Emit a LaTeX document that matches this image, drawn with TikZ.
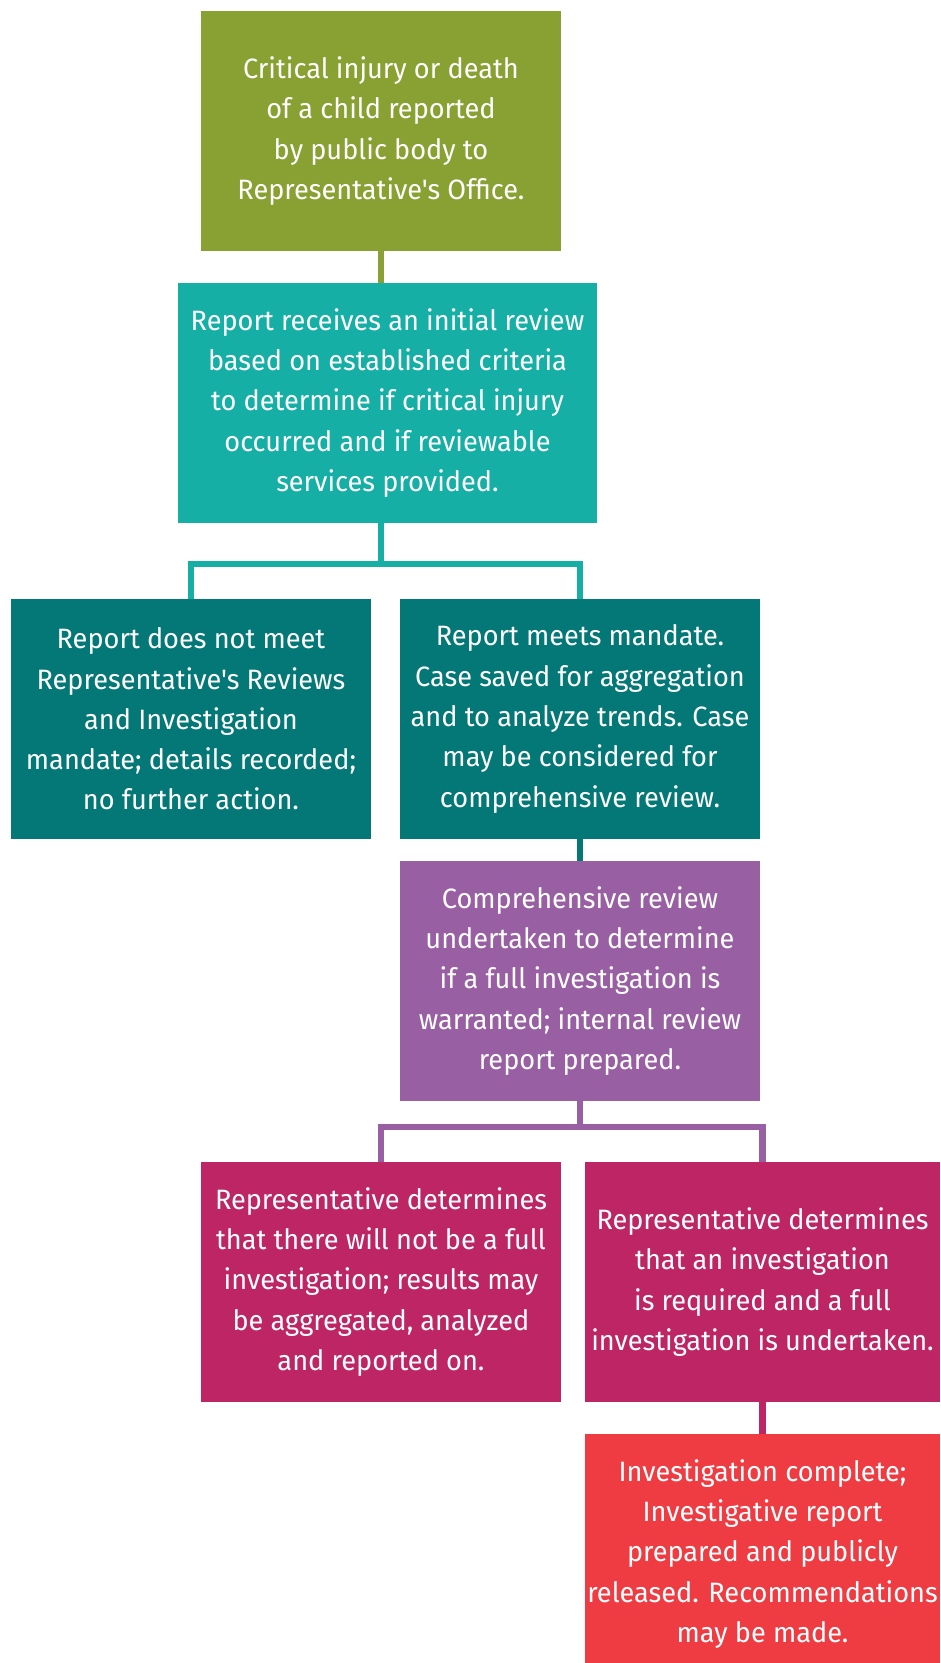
\documentclass[tikz,border=0pt]{standalone}
\usepackage{fontspec}
\setmainfont[FakeStretch=0.97, Ligatures=TeXOff]{Fira Sans}
\definecolor{cgreen}{HTML}{88A132}
\definecolor{cteal}{HTML}{16AFA6}
\definecolor{cdteal}{HTML}{047876}
\definecolor{cpurple}{HTML}{985FA3}
\definecolor{cmagenta}{HTML}{BE2564}
\definecolor{cred}{HTML}{EE3C42}

\begin{document}
\begin{tikzpicture} [x=1pt, y=-1pt,
  box/.style={fill=#1, text=white, align=center, minimum width=360pt, minimum height=240pt,
    inner sep=0pt, outer sep=0pt, font=\fontsize{28}{40.3}\selectfont},
  link/.style={draw=#1, line width=6.5pt}]
\useasboundingbox (0,0) rectangle (940,1663);
\node[box=cgreen](a) at (381,131){Critical injury or death\\of a child reported\\by public body to\\Representative's Office.};
\node[box=cteal, minimum width=419pt](b) at (387.5,403){Report receives an initial review\\based on established criteria\\to determine if critical injury\\occurred and if reviewable\\services provided.};
\node[box=cdteal](c) at (191,719){Report does not meet\\Representative's Reviews\\and Investigation\\mandate; details recorded;\\no further action.};
\node[box=cdteal](d) at (580,719){Report meets mandate.\\Case saved for aggregation\\and to analyze trends. Case\\may be considered for\\comprehensive review.};
\node[box=cpurple](e) at (580,981){Comprehensive review\\undertaken to determine\\if a full investigation is\\warranted; internal review\\report prepared.};
\node[box=cmagenta](f) at (381,1282){Representative determines\\that there will not be a full\\investigation; results may\\be aggregated, analyzed\\and reported on.};
\node[box=cmagenta, minimum width=355pt](g) at (762.5,1282){Representative determines\\that an investigation\\is required and a full\\investigation is undertaken.};
\node[box=cred, minimum width=355pt](h) at (762.5,1554){Investigation complete;\\Investigative report\\prepared and publicly\\released. Recommendations\\may be made.};
\draw[link=cgreen] (a.south) -- (a.south |- b.north);
\draw[link=cteal] (a.south |- b.south) -- ++(0,41) -| (c.north);
\draw[link=cteal] (a.south |- b.south) -- ++(0,41) -| (d.north);
\draw[link=cdteal] (d) -- (e);
\draw[link=cpurple] (e.south) -- ++(0,26) -| (f.north);
\draw[link=cpurple] (e.south) -- ++(0,26) -| (g.north);
\draw[link=cmagenta] (g) -- (h);
\end{tikzpicture}
\end{document}
